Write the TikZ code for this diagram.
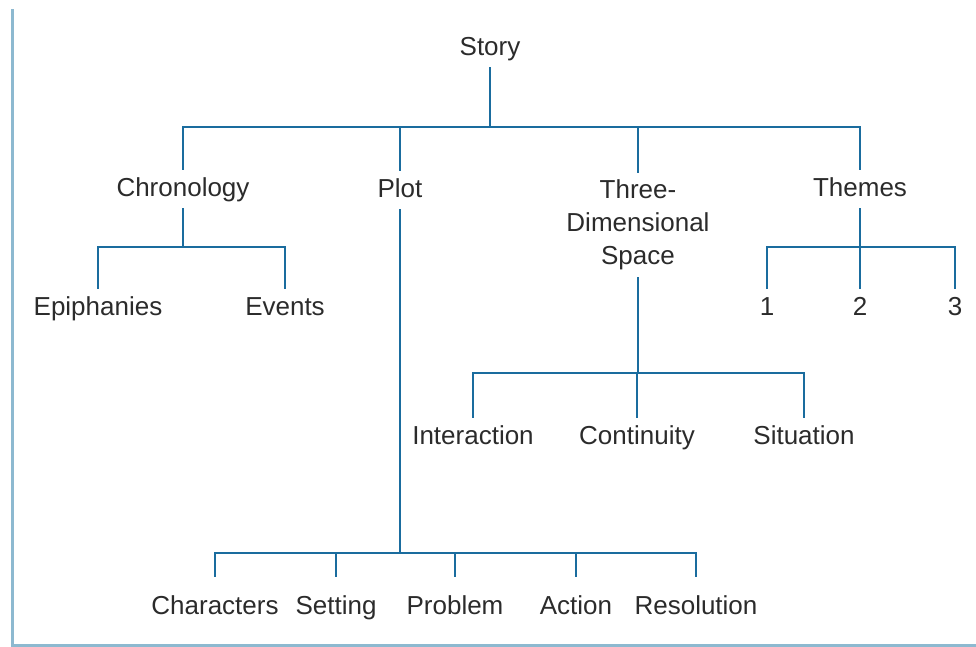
\documentclass[tikz,border=0pt]{standalone}
\usepackage{fontspec}
\setmainfont{Liberation Sans}
\definecolor{linkblue}{HTML}{1A6C9E}
\definecolor{frameblue}{HTML}{8DB9D0}
\definecolor{txt}{HTML}{2B2B2B}
\begin{document}
\begin{tikzpicture}[x=1pt,y=-1pt,
  lbl/.style={text=txt,font=\fontsize{26}{33}\selectfont,inner xsep=0pt,inner ysep=7pt,text height=19pt,text depth=5pt},
  mlbl/.style={text=txt,font=\fontsize{26}{33}\selectfont,inner xsep=0pt,inner ysep=7pt,align=center},
  link/.style={draw=linkblue,line width=2.6pt},
  lowlink/.style={link,shorten >=11pt},
  frame/.style={draw=frameblue,line width=3pt}]
\useasboundingbox (0,0) rectangle (976,646);
% frame lines
\coordinate (ftop) at (12,9);
\coordinate (fcorner) at (12,645);
\coordinate (fright) at (976,645);
\draw[frame] (ftop) -- (fcorner) -- (fright);
% nodes
\node[lbl] (story) at (490,48) {Story};
\node[lbl] (chron) at (183,189) {Chronology};
\node[lbl] (plot) at (400,190) {Plot};
\node[mlbl] (three) at (638,225) {Three-\\Dimensional\\Space};
\node[lbl] (themes) at (860,189) {Themes};
\node[lbl] (epiph) at (98,308) {Epiphanies};
\node[lbl] (events) at (285,308) {Events};
\node[lbl] (t1) at (767,308) {1};
\node[lbl] (t2) at (860,308) {2};
\node[lbl] (t3) at (955,308) {3};
\node[lbl] (inter) at (473,437) {Interaction};
\node[lbl] (cont) at (637,437) {Continuity};
\node[lbl] (sit) at (804,437) {Situation};
\node[lbl] (chars) at (215,607) {Characters};
\node[lbl] (sett) at (336,607) {Setting};
\node[lbl] (prob) at (455,607) {Problem};
\node[lbl] (act) at (576,607) {Action};
\node[lbl] (res) at (696,607) {Resolution};
% junctions
\coordinate (b0) at (490,127);
\coordinate (bc) at (183,247);
\coordinate (bp) at (400,553);
\coordinate (bt) at (638,373);
\coordinate (bth) at (860,247);
% connectors
\draw[link] (story.south) -- (b0);
\draw[link] (b0) -| (chron.north);
\draw[link] (b0) -| (plot.north);
\draw[link] (b0) -| (three.north);
\draw[link] (b0) -| (themes.north);
\draw[link] (chron.south) -- (bc);
\draw[link] (bc) -| (epiph.north);
\draw[link] (bc) -| (events.north);
\draw[link] (themes.south) -- (bth);
\draw[link] (bth) -| (t1.north);
\draw[link] (bth) -| (t2.north);
\draw[link] (bth) -| (t3.north);
\draw[link] (three.south) -- (bt);
\draw[link] (bt) -| (inter.north);
\draw[link] (bt) -| (cont.north);
\draw[link] (bt) -| (sit.north);
\draw[link] (plot.south) -- (bp);
\draw[lowlink] (bp) -| (chars.north);
\draw[lowlink] (bp) -| (sett.north);
\draw[lowlink] (bp) -| (prob.north);
\draw[lowlink] (bp) -| (act.north);
\draw[lowlink] (bp) -| (res.north);
\end{tikzpicture}
\end{document}
